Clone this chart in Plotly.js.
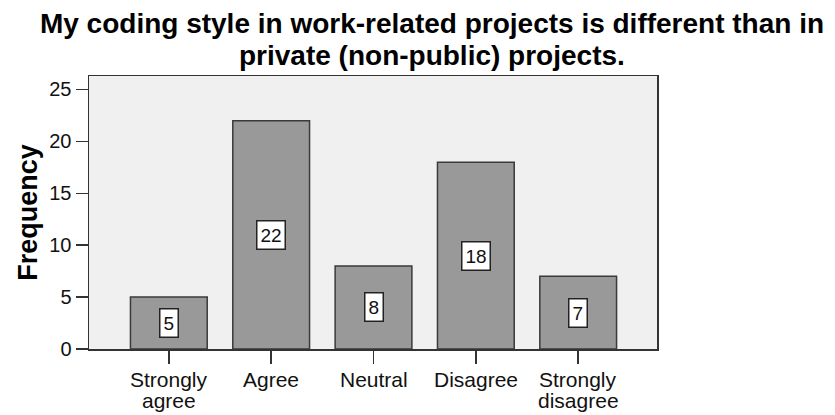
<!DOCTYPE html>
<html>
<head>
<meta charset="utf-8">
<script src="https://cdn.plot.ly/plotly-3.0.1.min.js"></script>
<style>html,body{margin:0;padding:0;background:#fff;}#chart{width:835px;height:415px;}</style>
</head>
<body>
<div id="chart"></div>
<script>
const categories = ['Strongly agree', 'Agree', 'Neutral', 'Disagree', 'Strongly disagree'];
const tickLine1 = ['Strongly', 'Agree', 'Neutral', 'Disagree', 'Strongly'];
const tickLine2 = ['agree', '', '', '', 'disagree'];
const frequency = [5, 22, 8, 18, 7];
const yTicks = [0, 5, 10, 15, 20, 25];
const titleLine1 = 'My coding style in work-related projects is different than in';
const titleLine2 = 'private (non-public) projects.';

const FONT = '"Liberation Sans", Arial, sans-serif';
const PLOT_TOP = 76, PLOT_BOTTOM = 349, PLOT_H = PLOT_BOTTOM - PLOT_TOP;
const pyToPaper = px => (PLOT_BOTTOM - px) / PLOT_H;

const trace = {
  type: 'bar',
  x: categories,
  y: frequency,
  width: 0.75,
  marker: {color: '#999999', line: {color: '#3a3a3a', width: 1.5}},
  hoverinfo: 'x+y'
};

const labelAnns = categories.map((c, i) => ({
  x: c, y: frequency[i] / 2, xref: 'x', yref: 'y',
  text: String(frequency[i]), showarrow: false,
  font: {family: FONT, size: 19, color: '#111'},
  bgcolor: '#ffffff', bordercolor: '#222', borderwidth: 1.5, borderpad: 3,
  xanchor: 'center', yanchor: 'middle'
}));

const tickAnns = [];
categories.forEach((c, i) => {
  tickAnns.push({
    x: c, xref: 'x', yref: 'paper', y: pyToPaper(379),
    text: tickLine1[i], showarrow: false,
    font: {family: FONT, size: 21, color: '#111'},
    xanchor: 'center', yanchor: 'middle'
  });
  if (tickLine2[i]) {
    tickAnns.push({
      x: c, xref: 'x', yref: 'paper', y: pyToPaper(400),
      text: tickLine2[i], showarrow: false,
      font: {family: FONT, size: 21, color: '#111'},
      xanchor: 'center', yanchor: 'middle'
    });
  }
});

const layout = {
  width: 835, height: 415,
  margin: {l: 89, r: 178, t: PLOT_TOP, b: 415 - PLOT_BOTTOM},
  paper_bgcolor: '#ffffff',
  plot_bgcolor: '#f0f0f0',
  showlegend: false,
  title: {
    text: '<b>' + titleLine1 + '</b>',
    font: {family: FONT, size: 28, color: '#000'},
    x: 432 / 835, xref: 'container', xanchor: 'center',
    y: 1 - 23 / 415, yref: 'container', yanchor: 'middle'
  },
  xaxis: {
    type: 'category',
    range: [-0.78, 4.77],
    showticklabels: false,
    ticks: 'outside', ticklen: 13, tickwidth: 1.5, tickcolor: '#333',
    showline: true, linecolor: '#333', linewidth: 1.5, mirror: true,
    showgrid: false, zeroline: false, fixedrange: true
  },
  yaxis: {
    range: [0, 26.3],
    tickvals: yTicks,
    ticktext: yTicks.map(String),
    tickfont: {family: FONT, size: 20, color: '#111'},
    ticks: 'outside', ticklen: 12, tickwidth: 1.5, tickcolor: '#333',
    showline: true, linecolor: '#333', linewidth: 1.5, mirror: true,
    showgrid: false, zeroline: false, fixedrange: true,
    title: {text: '<b>Frequency</b>', font: {family: FONT, size: 27, color: '#000'}, standoff: 4}
  },
  annotations: labelAnns.concat(tickAnns, [{
    xref: 'paper', yref: 'paper',
    x: (432 - 89) / 568, y: pyToPaper(55),
    xanchor: 'center', yanchor: 'middle',
    text: '<b>' + titleLine2 + '</b>', showarrow: false,
    font: {family: FONT, size: 28, color: '#000'}
  }])
};

Plotly.newPlot('chart', [trace], layout, {displayModeBar: false, staticPlot: true});
</script>
</body>
</html>
